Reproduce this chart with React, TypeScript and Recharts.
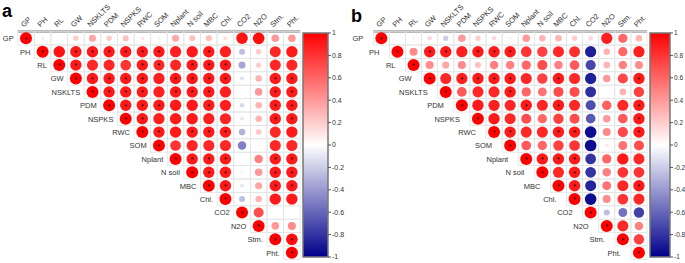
import { Bar, BarChart, Scatter, ScatterChart, XAxis, YAxis } from "recharts"

const variables = ["GP", "PH", "RL", "GW", "NSKLTS", "PDM", "NSPKS", "RWC", "SOM", "Nplant", "N soil", "MBC", "Chl.", "CO2", "N2O", "Stm.", "Pht."]

// upper triangle, each row starts at the diagonal
const corrA = [
  [1, 0.08, 0.02, 0.2, 0.35, 0.2, 0.25, 0.1, -0.06, 0.35, 0.25, 0.25, 0.12, 0.92, 0.95, 0.4, 0.4],
  [1, 0.92, 0.9, 0.9, 0.9, 0.9, 0.9, 0.9, 0.88, 0.9, 0.9, 0.88, -0.25, 0.2, 0.85, 0.9],
  [1, 0.9, 0.85, 0.85, 0.8, 0.9, 0.85, 0.85, 0.9, 0.9, 0.9, -0.35, 0.2, 0.85, 0.85],
  [1, 0.9, 0.9, 0.9, 0.9, 0.88, 0.9, 0.9, 0.9, 0.9, -0.12, 0.3, 0.9, 0.9],
  [1, 0.9, 0.9, 0.9, 0.88, 0.9, 0.9, 0.9, 0.88, -0.03, 0.4, 0.9, 0.9],
  [1, 0.9, 0.9, 0.9, 0.9, 0.9, 0.9, 0.88, -0.15, 0.3, 0.9, 0.9],
  [1, 0.9, 0.88, 0.9, 0.9, 0.88, 0.86, -0.1, 0.3, 0.9, 0.9],
  [1, 0.9, 0.9, 0.9, 0.9, 0.9, -0.3, 0.22, 0.85, 0.9],
  [1, 0.8, 0.85, 0.85, 0.85, -0.5, 0.04, 0.85, 0.85],
  [1, 0.9, 0.9, 0.9, 0.03, 0.5, 0.9, 0.9],
  [1, 0.9, 0.9, -0.05, 0.4, 0.9, 0.9],
  [1, 0.9, -0.1, 0.35, 0.9, 0.9],
  [1, -0.25, 0.3, 0.9, 0.9],
  [1, 0.7, 0.02, 0.01],
  [1, 0.4, 0.45],
  [1, 0.95],
  [1],
]

// column indices marked with *
const sigA = [
  [0],
  [1, 3, 4, 5, 6, 7, 8, 11],
  [2, 3, 7, 8, 10, 11, 12],
  [3, 4, 5, 6, 7, 9, 10, 11, 12, 15, 16],
  [4, 5, 6, 7, 9, 10, 11, 15, 16],
  [5, 6, 7, 8, 11, 15, 16],
  [6, 7, 15, 16],
  [7, 8, 10, 11, 12],
  [8],
  [9, 10, 11, 12, 15, 16],
  [10, 11, 12, 15, 16],
  [11, 12, 15, 16],
  [12],
  [13],
  [14],
  [15, 16],
  [16],
]

const corrB = [
  [1, 0.0, -0.05, 0.15, -0.2, 0.4, 0.2, 0.15, -0.06, 0.4, 0.3, 0.3, 0.2, 0.15, 0.88, 0.6, 0.3],
  [1, 0.45, 0.9, 0.9, 0.88, 0.9, 0.9, 0.9, 0.8, 0.75, 0.85, 0.82, -0.88, 0.3, 0.6, 0.88],
  [1, 0.45, 0.35, 0.45, 0.25, 0.5, 0.5, 0.6, 0.7, 0.5, 0.65, -0.72, 0.3, 0.5, 0.45],
  [1, 0.85, 0.88, 0.9, 0.9, 0.9, 0.85, 0.75, 0.9, 0.85, -0.88, 0.4, 0.72, 0.9],
  [1, 0.65, 0.85, 0.85, 0.9, 0.6, 0.55, 0.7, 0.7, -0.82, 0.0, 0.3, 0.75],
  [1, 0.9, 0.88, 0.85, 0.9, 0.85, 0.9, 0.85, -0.7, 0.62, 0.85, 0.9],
  [1, 0.9, 0.85, 0.7, 0.6, 0.75, 0.7, -0.65, 0.4, 0.65, 0.9],
  [1, 0.9, 0.85, 0.85, 0.9, 0.9, -0.95, 0.45, 0.72, 0.9],
  [1, 0.65, 0.6, 0.75, 0.8, -0.95, 0.1, 0.55, 0.7],
  [1, 0.9, 0.9, 0.9, -0.8, 0.6, 0.9, 0.85],
  [1, 0.85, 0.9, -0.8, 0.5, 0.8, 0.8],
  [1, 0.9, -0.85, 0.55, 0.85, 0.9],
  [1, -0.95, 0.45, 0.8, 0.85],
  [1, -0.25, -0.55, -0.75],
  [1, 0.85, 0.5],
  [1, 0.75],
  [1],
]

const sigB = [
  [0],
  [1, 3, 4, 6, 7, 8],
  [2],
  [3, 5, 6, 7, 8, 11, 16],
  [4, 8],
  [5, 9, 11, 16],
  [6, 16],
  [7, 8, 11, 12, 16],
  [8],
  [9, 10, 11, 12],
  [10, 12],
  [11, 12, 16],
  [12],
  [13],
  [14],
  [15],
  [16],
]

const colorbarTicks = [1, 0.8, 0.6, 0.4, 0.2, 0, -0.2, -0.4, -0.6, -0.8, -1]
const colorbarData = [{ name: "r", range: [-1, 1] }]

const H = 263
const AXIS_H = 31.6
const FONT = "'Liberation Sans', Arial, sans-serif"
const indices = variables.map((_, i) => i)

function toPoints(rows: number[][], sigs: number[][]) {
  return rows.flatMap((row, i) =>
    row.map((r, k) => ({ x: i + k, y: i, r, sig: sigs[i].includes(i + k) }))
  )
}

function corrColor(r: number) {
  const t = Math.min(1, Math.abs(r))
  const c = Math.round(255 * (1 - t))
  if (r >= 0) return `rgb(255,${c},${c})`
  return `rgb(${c},${c},${Math.round(255 - 116 * t)})`
}

function CorrPanel({ points, left, width, margin, labelGap }: any) {
  const n = variables.length
  const cellW = (width - margin.left - margin.right) / n
  const cellH = (H - AXIS_H - margin.bottom) / n

  const cell = (props: any) => {
    const { cx, cy, payload } = props
    const rad = 6 * Math.sqrt(Math.abs(payload.r))
    return (
      <g>
        <rect x={cx - cellW / 2} y={cy - cellH / 2} width={cellW} height={cellH} fill="none" stroke="#e4e4e4" strokeWidth={0.8} />
        <circle cx={cx} cy={cy} r={rad} fill={corrColor(payload.r)} />
        {payload.sig && (
          <text x={cx} y={cy + 3.2} textAnchor="middle" fontSize={7} fill="#000" fontFamily={FONT}>*</text>
        )}
        {payload.x === payload.y && (
          <text x={cx - cellW / 2 - labelGap} y={cy + 2.8} textAnchor="end" fontSize={7.5} fill="#333" fontFamily={FONT}>
            {variables[payload.y]}
          </text>
        )}
      </g>
    )
  }

  const columnTick = ({ x, y, payload }: any) => (
    <text x={x - 2} y={y} transform={`rotate(-45 ${x - 2} ${y})`} fontSize={7.5} fill="#333" fontFamily={FONT}>
      {variables[payload.value]}
    </text>
  )

  return (
    <div style={{ position: "absolute", left, top: 0 }}>
      <ScatterChart width={width} height={H} margin={{ top: 0, right: margin.right, bottom: margin.bottom, left: margin.left }}>
        <XAxis
          type="number"
          dataKey="x"
          orientation="top"
          domain={[-0.5, 16.5]}
          ticks={indices}
          interval={0}
          height={AXIS_H}
          tickLine={false}
          tickSize={0}
          tickMargin={4}
          tick={columnTick}
          axisLine={{ stroke: "#777", strokeWidth: 2 }}
        />
        <YAxis
          type="number"
          dataKey="y"
          orientation="right"
          reversed
          domain={[-0.5, 16.5]}
          width={0}
          tick={false}
          tickLine={false}
          axisLine={{ stroke: "#777", strokeWidth: 2 }}
        />
        <Scatter data={points} shape={cell} isAnimationActive={false} />
      </ScatterChart>
    </div>
  )
}

function ColorBar({ id, left, width, barLeft, axisW, fontSize }: any) {
  return (
    <div style={{ position: "absolute", left, top: 0 }}>
      <BarChart width={width} height={H} data={colorbarData} margin={{ top: 33, right: 0, bottom: 6, left: barLeft }} barCategoryGap={0}>
        <defs>
          <linearGradient id={id} x1="0" y1="0" x2="0" y2="1">
            <stop offset="0%" stopColor="#ff0000" />
            <stop offset="50%" stopColor="#ffffff" />
            <stop offset="100%" stopColor="#00008b" />
          </linearGradient>
        </defs>
        <XAxis dataKey="name" hide />
        <YAxis
          orientation="right"
          width={axisW}
          domain={[-1, 1]}
          ticks={colorbarTicks}
          interval={0}
          axisLine={false}
          tickSize={3}
          tickMargin={1}
          tickLine={{ stroke: "#555" }}
          tick={{ fontSize, fill: "#333", fontFamily: FONT }}
          tickFormatter={(v: number) => String(Number(v.toFixed(1)))}
        />
        <Bar dataKey="range" fill={`url(#${id})`} stroke="#777" strokeWidth={1.5} isAnimationActive={false} />
      </BarChart>
    </div>
  )
}

export default function App() {
  return (
    <div style={{ position: "absolute", left: 0, top: 0, width: 685, height: H, background: "#fff", overflow: "hidden" }}>
      <CorrPanel points={toPoints(corrA, sigA)} left={0} width={302} margin={{ left: 17.7, right: 1.8, bottom: 3.6 }} labelGap={4} />
      <ColorBar id="cbA" left={296} width={52} barLeft={7} axisW={20} fontSize={7} />
      <CorrPanel points={toPoints(corrB, sigB)} left={350} width={300} margin={{ left: 23.3, right: 3, bottom: 3.6 }} labelGap={10} />
      <ColorBar id="cbB" left={645} width={40} barLeft={5} axisW={15} fontSize={6.5} />
      <svg width={685} height={H} style={{ position: "absolute", left: 0, top: 0, pointerEvents: "none" }}>
        <text x={2} y={17} fontSize={18} fontWeight="bold" fontFamily={FONT} fill="#000">a</text>
        <text x={351} y={22} fontSize={18} fontWeight="bold" fontFamily={FONT} fill="#000">b</text>
      </svg>
    </div>
  )
}
